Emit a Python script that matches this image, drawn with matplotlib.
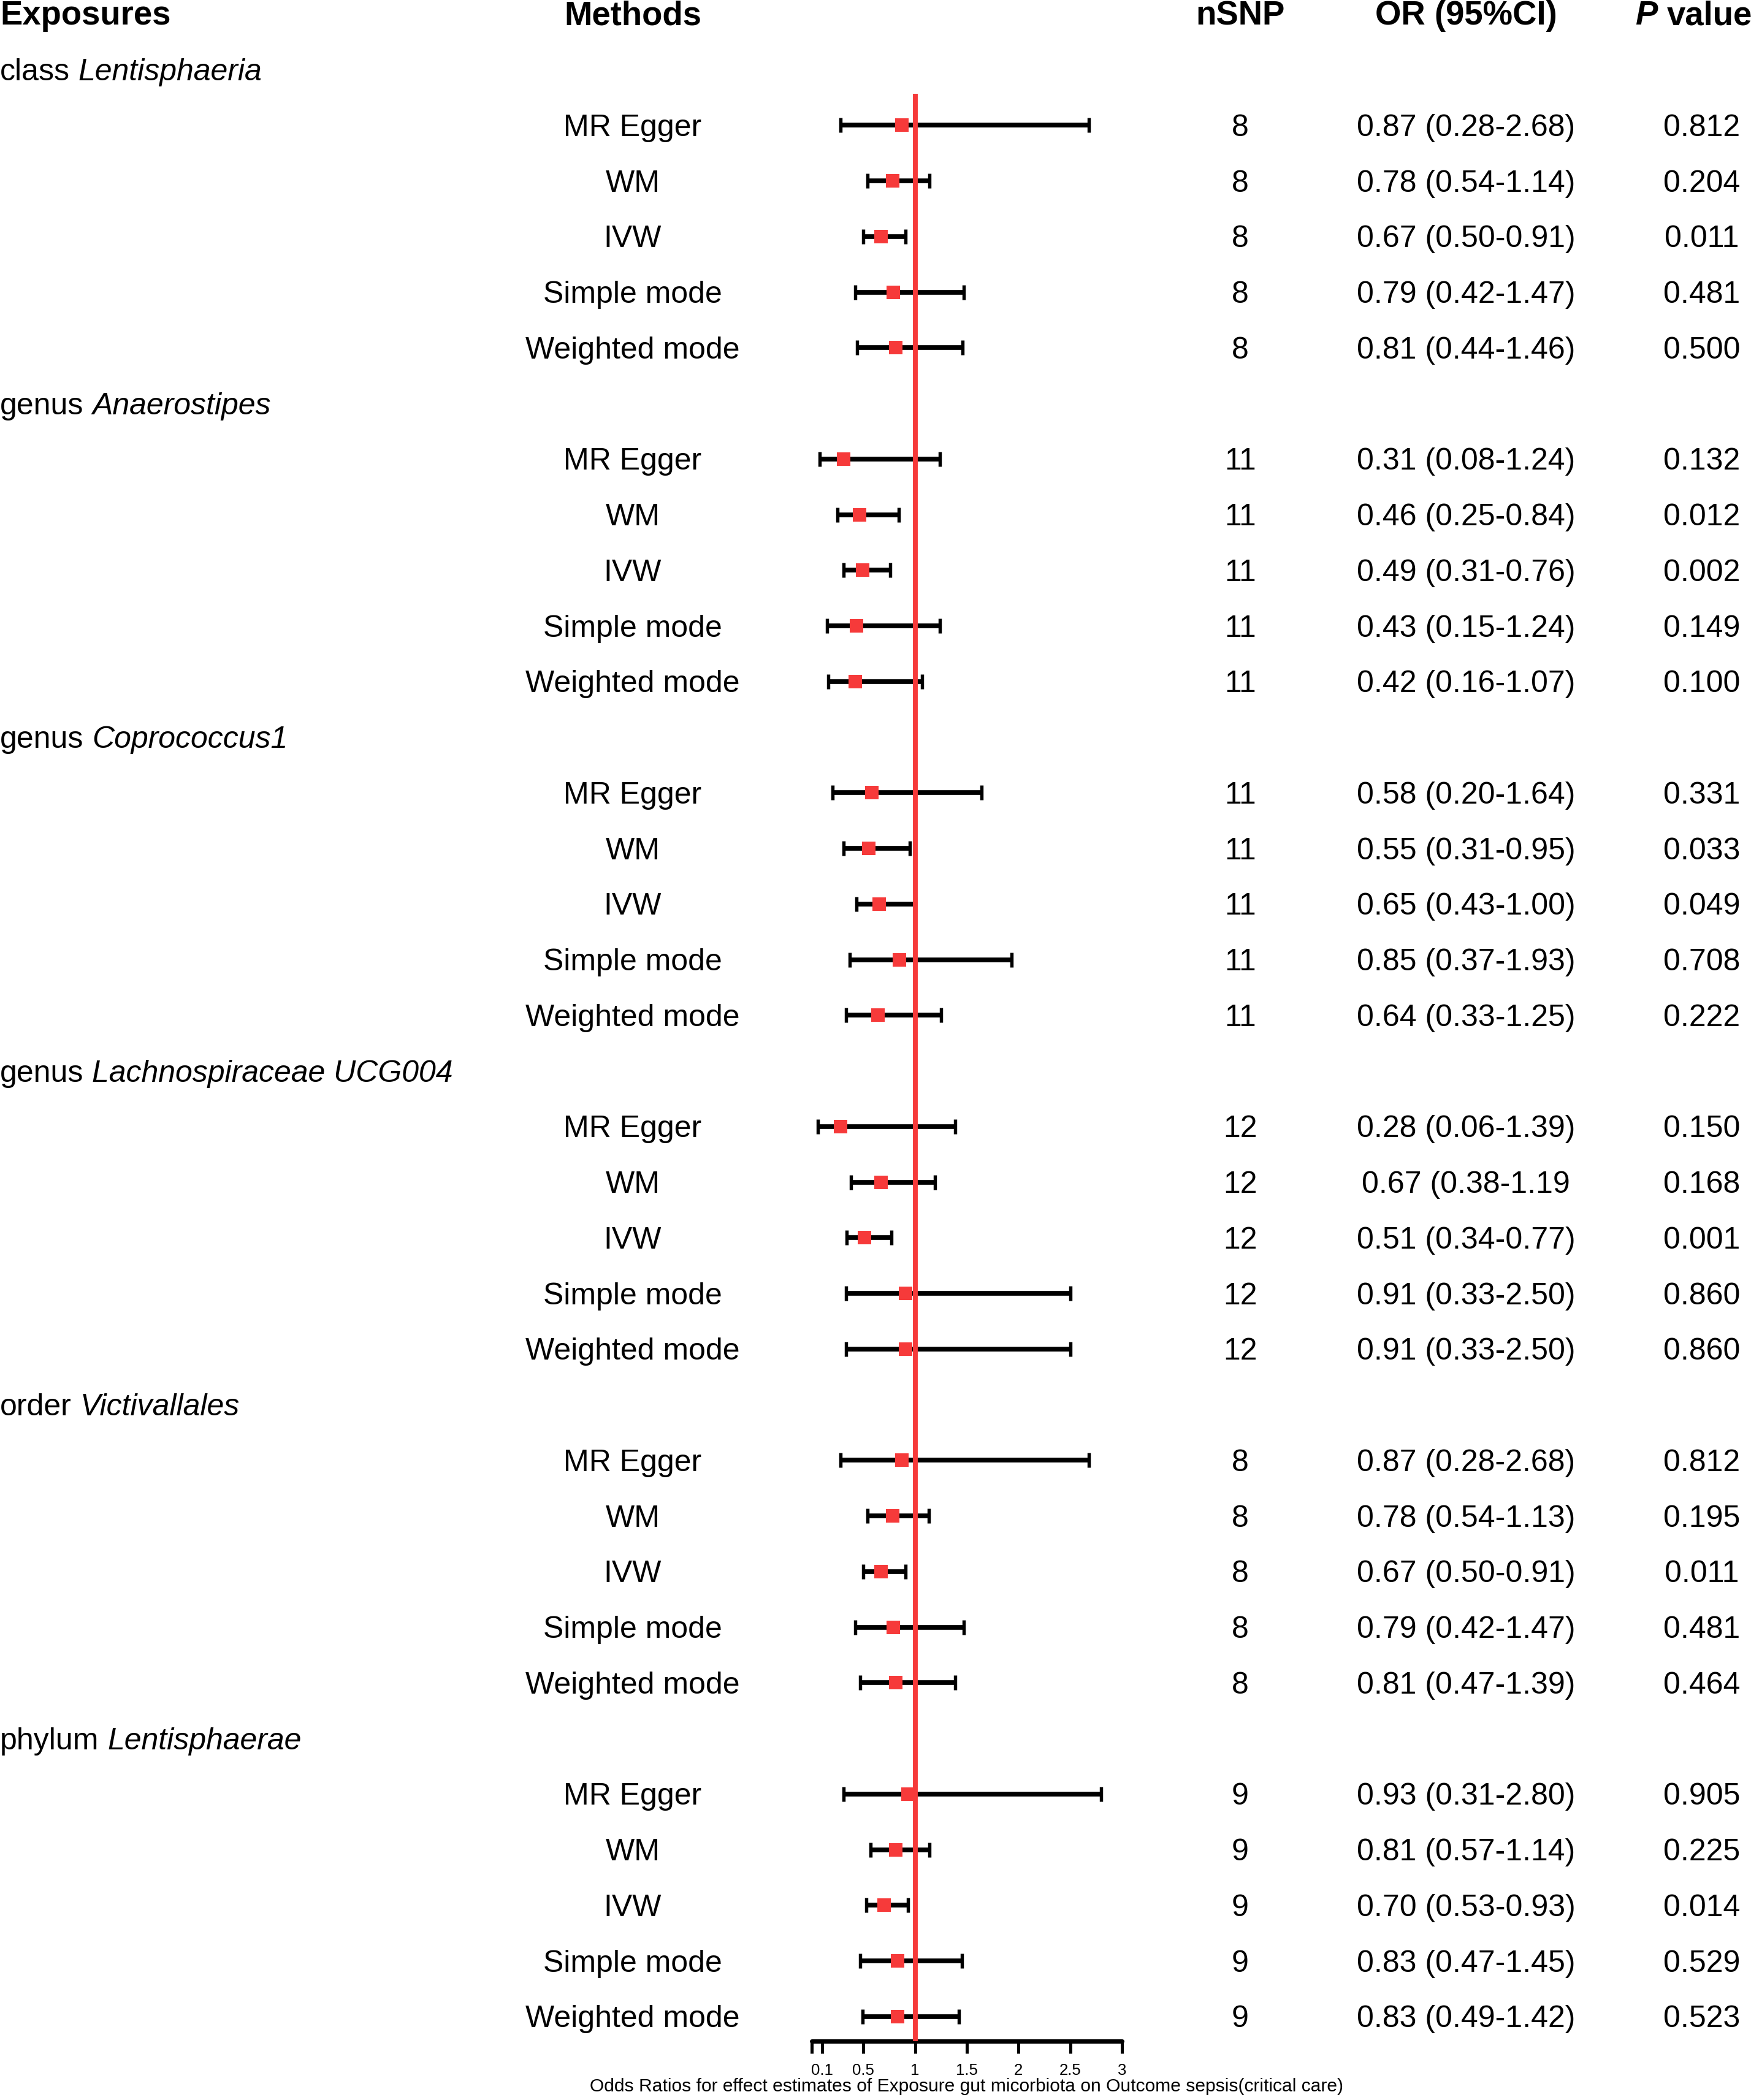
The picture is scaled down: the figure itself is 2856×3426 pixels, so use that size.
import matplotlib
matplotlib.use("Agg")
import matplotlib.pyplot as plt

# ---------------- data ----------------
exposure_prefix = ["class", "genus", "genus", "genus", "order", "phylum"]
exposure_taxon = ["Lentisphaeria", "Anaerostipes", "Coprococcus1",
                  "Lachnospiraceae UCG004", "Victivallales", "Lentisphaerae"]
methods = ["MR Egger", "WM", "IVW", "Simple mode", "Weighted mode"]
nsnp = [8, 11, 11, 12, 8, 9]

or_vals = [
    [0.87, 0.78, 0.67, 0.79, 0.81],
    [0.31, 0.46, 0.49, 0.43, 0.42],
    [0.58, 0.55, 0.65, 0.85, 0.64],
    [0.28, 0.67, 0.51, 0.91, 0.91],
    [0.87, 0.78, 0.67, 0.79, 0.81],
    [0.93, 0.81, 0.70, 0.83, 0.83],
]
ci_low = [
    [0.28, 0.54, 0.50, 0.42, 0.44],
    [0.08, 0.25, 0.31, 0.15, 0.16],
    [0.20, 0.31, 0.43, 0.37, 0.33],
    [0.06, 0.38, 0.34, 0.33, 0.33],
    [0.28, 0.54, 0.50, 0.42, 0.47],
    [0.31, 0.57, 0.53, 0.47, 0.49],
]
ci_high = [
    [2.68, 1.14, 0.91, 1.47, 1.46],
    [1.24, 0.84, 0.76, 1.24, 1.07],
    [1.64, 0.95, 1.00, 1.93, 1.25],
    [1.39, 1.19, 0.77, 2.50, 2.50],
    [2.68, 1.13, 0.91, 1.47, 1.39],
    [2.80, 1.14, 0.93, 1.45, 1.42],
]
p_values = [
    ["0.812", "0.204", "0.011", "0.481", "0.500"],
    ["0.132", "0.012", "0.002", "0.149", "0.100"],
    ["0.331", "0.033", "0.049", "0.708", "0.222"],
    ["0.150", "0.168", "0.001", "0.860", "0.860"],
    ["0.812", "0.195", "0.011", "0.481", "0.464"],
    ["0.905", "0.225", "0.014", "0.529", "0.523"],
]
# label exactly as printed in the original (closing bracket missing)
ci_label_override = {(3, 1): "0.67 (0.38-1.19"}

x_ticks = [0, 0.1, 0.5, 1, 1.5, 2, 2.5, 3]
x_ticklabels = ["", "0.1", "0.5", "1", "1.5", "2", "2.5", "3"]
x_label = "Odds Ratios for effect estimates of Exposure gut micorbiota on Outcome sepsis(critical care)"
headers = ["Exposures", "Methods", "nSNP", "OR (95%CI)"]

# ---------------- style / layout ----------------
plt.rcParams["font.family"] = ["Liberation Sans", "DejaVu Sans"]
W, H, DPI = 2856, 3426, 300
RED = "#F63A3A"
ROW0, PITCH = 113.7, 90.75          # pixel y of first row, row pitch
BASE = 0.193                        # baseline offset (rows) below row centre
FS_BODY = 12.0
FS_HEAD = 13.1
X_METHOD, X_NSNP, X_OR, X_P = 1032, 2023, 2391, 2776
X_PHEAD = 2667


def px2r(py):
    return (py - ROW0) / PITCH


fig = plt.figure(figsize=(W / DPI, H / DPI), dpi=DPI)
fig.patch.set_facecolor("white")

# text layer, x in pixels, y in rows
ax_t = fig.add_axes([0, 0, 1, 1])
ax_t.set_xlim(0, W)
ax_t.set_ylim(px2r(H), px2r(0))
ax_t.axis("off")

# forest plot axes
AX_L, AX_R, AX_TOP, AX_BOT = 1324, 1830, 153, 3330
ax = fig.add_axes([AX_L / W, 1 - AX_BOT / H, (AX_R - AX_L) / W, (AX_BOT - AX_TOP) / H])
ax.set_xlim(0, 3)
ax.set_ylim(px2r(AX_BOT), px2r(AX_TOP))
ax.patch.set_alpha(0)
for s in ["left", "right", "top"]:
    ax.spines[s].set_visible(False)
ax.spines["bottom"].set_linewidth(1.7)
ax.spines["bottom"].set_capstyle("round")
ax.set_yticks([])
ax.set_xticks(x_ticks)
ax.set_xticklabels(x_ticklabels, fontsize=6.2)
ax.tick_params(axis="x", length=4.8, width=1.2, pad=3.8, direction="out")

renderer = fig.canvas.get_renderer()


def width_px(s, **kw):
    t = ax_t.text(0, 0, s, **kw)
    w = t.get_window_extent(renderer).width
    t.remove()
    return w


# headers
hy = -1 + BASE
ax_t.text(0, hy, headers[0], fontsize=FS_HEAD, fontweight="bold", ha="left", va="baseline")
ax_t.text(X_METHOD, hy, headers[1], fontsize=FS_HEAD, fontweight="bold", ha="center", va="baseline")
ax_t.text(X_NSNP, hy, headers[2], fontsize=FS_HEAD, fontweight="bold", ha="center", va="baseline")
ax_t.text(X_OR, hy, headers[3], fontsize=FS_HEAD, fontweight="bold", ha="center", va="baseline")
ax_t.text(X_PHEAD, hy, "P", fontsize=FS_HEAD, fontweight="bold", style="italic",
          ha="left", va="baseline")
wp = width_px("P", fontsize=FS_HEAD, fontweight="bold", style="italic")
wsp_b = width_px("a a", fontsize=FS_HEAD, fontweight="bold") - width_px("aa", fontsize=FS_HEAD, fontweight="bold")
ax_t.text(X_PHEAD + wp + wsp_b, hy, "value", fontsize=FS_HEAD, fontweight="bold",
          ha="left", va="baseline")

wsp = width_px("a a", fontsize=FS_BODY) - width_px("aa", fontsize=FS_BODY)

ys, xs, lo_err, hi_err = [], [], [], []
for g in range(len(exposure_taxon)):
    rg = g * (len(methods) + 1)
    yb = rg + BASE
    ax_t.text(0, yb, exposure_prefix[g], fontsize=FS_BODY, ha="left", va="baseline")
    w0 = width_px(exposure_prefix[g], fontsize=FS_BODY)
    ax_t.text(w0 + wsp, yb, exposure_taxon[g], fontsize=FS_BODY, style="italic",
              ha="left", va="baseline")
    for m in range(len(methods)):
        r = rg + 1 + m
        yb = r + BASE
        ax_t.text(X_METHOD, yb, methods[m], fontsize=FS_BODY, ha="center", va="baseline")
        ax_t.text(X_NSNP, yb, str(nsnp[g]), fontsize=FS_BODY, ha="center", va="baseline")
        o, lo, hi = or_vals[g][m], ci_low[g][m], ci_high[g][m]
        lab = ci_label_override.get((g, m), f"{o:.2f} ({lo:.2f}-{hi:.2f})")
        ax_t.text(X_OR, yb, lab, fontsize=FS_BODY, ha="center", va="baseline")
        ax_t.text(X_P, yb, p_values[g][m], fontsize=FS_BODY, ha="center", va="baseline")
        ys.append(r)
        xs.append(o)
        lo_err.append(o - lo)
        hi_err.append(hi - o)

eb = ax.errorbar(xs, ys, xerr=[lo_err, hi_err], fmt="none", ecolor="black",
                 elinewidth=1.85, capsize=2.8, capthick=1.3, zorder=2)
for c in eb[1]:
    c.set_solid_capstyle("round")
ax.axvline(1, color=RED, lw=1.9, zorder=3)
ax.plot(xs, ys, linestyle="none", marker="s", markersize=5.1, color=RED,
        markeredgewidth=0, zorder=4)

ax_t.text((AX_L + AX_R) / 2, px2r(3412), x_label, fontsize=7.2, ha="center", va="baseline")

fig.savefig("out.png", dpi=DPI, facecolor="white")
